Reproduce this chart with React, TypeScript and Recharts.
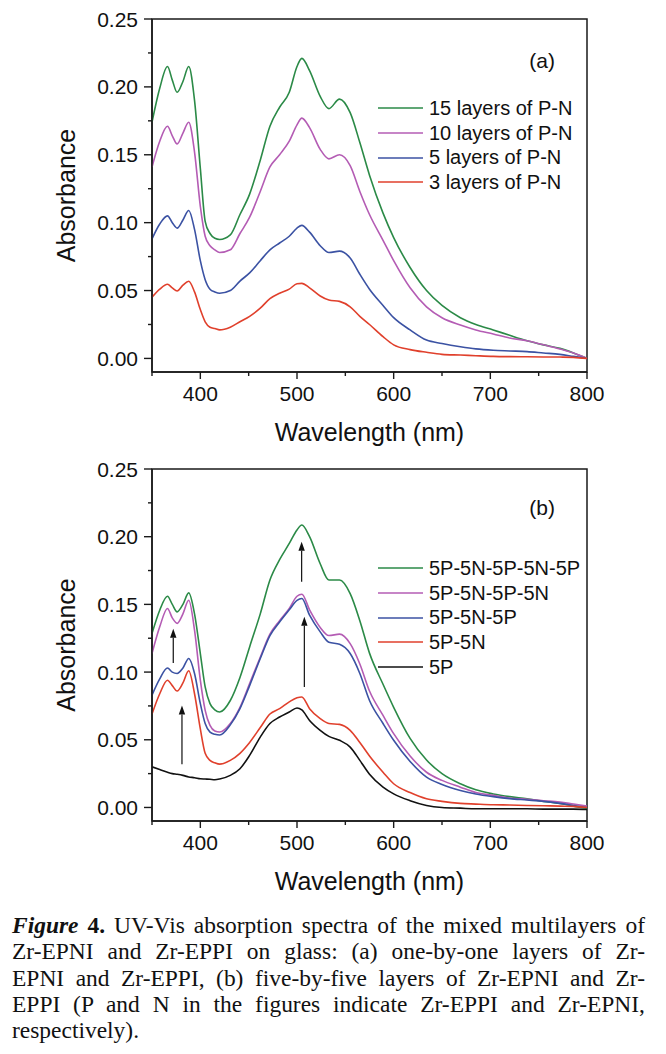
import React from 'react';
import { LineChart, Line, XAxis, YAxis, ReferenceArea, ReferenceLine, Legend } from 'recharts';

// ---------- data ----------
const wavelengths = [350, 358, 366, 371, 376, 382, 388, 394, 400, 405, 410, 415, 420, 431, 441, 451, 462, 472, 482, 492, 500, 505, 513, 524, 533, 544, 555, 565, 575, 589, 600, 617, 634, 650, 669, 685, 703, 720, 738, 755, 772, 786, 800];

// (a) one-by-one layers
const layers15 = [0.174, 0.199, 0.215, 0.205, 0.196, 0.204, 0.215, 0.190, 0.140, 0.101, 0.092, 0.0885, 0.0876, 0.091, 0.106, 0.121, 0.146, 0.171, 0.185, 0.196, 0.215, 0.221, 0.212, 0.193, 0.184, 0.191, 0.181, 0.159, 0.135, 0.107, 0.089, 0.067, 0.050, 0.039, 0.030, 0.025, 0.021, 0.017, 0.013, 0.010, 0.0074, 0.004, 0.0];
const layers10 = [0.141, 0.160, 0.171, 0.164, 0.158, 0.166, 0.174, 0.152, 0.112, 0.090, 0.083, 0.080, 0.078, 0.080, 0.092, 0.104, 0.123, 0.141, 0.150, 0.160, 0.172, 0.177, 0.170, 0.154, 0.147, 0.150, 0.142, 0.123, 0.106, 0.087, 0.072, 0.052, 0.038, 0.030, 0.0246, 0.021, 0.018, 0.015, 0.013, 0.010, 0.007, 0.004, 0.0];
const layers5 = [0.088, 0.099, 0.105, 0.100, 0.096, 0.102, 0.109, 0.095, 0.072, 0.058, 0.051, 0.049, 0.048, 0.050, 0.057, 0.063, 0.072, 0.080, 0.085, 0.090, 0.096, 0.098, 0.093, 0.083, 0.078, 0.079, 0.074, 0.062, 0.051, 0.039, 0.030, 0.021, 0.0135, 0.011, 0.0086, 0.007, 0.006, 0.0055, 0.005, 0.004, 0.003, 0.0015, 0.0];
const layers3 = [0.045, 0.051, 0.0546, 0.052, 0.0497, 0.054, 0.0568, 0.049, 0.036, 0.027, 0.023, 0.022, 0.021, 0.023, 0.027, 0.031, 0.037, 0.044, 0.048, 0.051, 0.055, 0.0553, 0.052, 0.046, 0.043, 0.042, 0.038, 0.031, 0.025, 0.016, 0.010, 0.0065, 0.0045, 0.003, 0.0025, 0.002, 0.0015, 0.0013, 0.0012, 0.0011, 0.001, 0.0008, 0.0];

// (b) five-by-five layers
const s5P5N5P5N5P = [0.1285, 0.1457, 0.156, 0.150, 0.1445, 0.150, 0.1585, 0.143, 0.1137, 0.089, 0.0767, 0.072, 0.0705, 0.079, 0.096, 0.1186, 0.143, 0.168, 0.183, 0.195, 0.205, 0.2086, 0.200, 0.180, 0.168, 0.168, 0.158, 0.138, 0.114, 0.091, 0.074, 0.051, 0.035, 0.025, 0.0175, 0.013, 0.010, 0.008, 0.0064, 0.0045, 0.003, 0.001, -0.0005];
const s5P5N5P5N = [0.1137, 0.1334, 0.147, 0.140, 0.136, 0.143, 0.153, 0.131, 0.094, 0.0717, 0.0606, 0.0565, 0.0557, 0.062, 0.074, 0.0915, 0.111, 0.128, 0.138, 0.147, 0.156, 0.1575, 0.146, 0.133, 0.127, 0.128, 0.121, 0.106, 0.086, 0.068, 0.0545, 0.038, 0.026, 0.020, 0.015, 0.011, 0.0089, 0.007, 0.006, 0.005, 0.004, 0.0025, 0.001];
const s5P5N5P = [0.083, 0.095, 0.103, 0.100, 0.099, 0.103, 0.110, 0.099, 0.0767, 0.062, 0.0557, 0.054, 0.0535, 0.061, 0.073, 0.090, 0.110, 0.127, 0.137, 0.146, 0.153, 0.1544, 0.142, 0.1297, 0.122, 0.1205, 0.1137, 0.099, 0.079, 0.062, 0.0496, 0.034, 0.0224, 0.017, 0.0126, 0.010, 0.008, 0.0065, 0.0055, 0.0045, 0.003, 0.0015, 0.0];
const s5P5N = [0.069, 0.084, 0.094, 0.090, 0.086, 0.092, 0.101, 0.084, 0.058, 0.040, 0.0348, 0.033, 0.032, 0.0348, 0.040, 0.048, 0.059, 0.069, 0.073, 0.078, 0.081, 0.0816, 0.073, 0.0656, 0.062, 0.0614, 0.057, 0.048, 0.038, 0.026, 0.0175, 0.011, 0.0064, 0.0045, 0.003, 0.0025, 0.002, 0.0018, 0.0015, 0.0013, 0.001, 0.0008, 0.0];
const s5P = [0.030, 0.028, 0.026, 0.025, 0.0245, 0.0237, 0.0225, 0.022, 0.0212, 0.021, 0.0208, 0.0205, 0.021, 0.0237, 0.0286, 0.0385, 0.052, 0.062, 0.0668, 0.0705, 0.0735, 0.072, 0.0643, 0.057, 0.0525, 0.0496, 0.0446, 0.0348, 0.0245, 0.015, 0.010, 0.005, 0.0015, 0.0, -0.0005, -0.001, -0.001, -0.001, -0.001, -0.0012, -0.0012, -0.0012, -0.0015];

// arrows in panel (b): wavelength, start absorbance, tip absorbance
const arrowX = [381, 372, 507.6, 504.8];
const arrowFrom = [0.032, 0.1067, 0.089, 0.1667];
const arrowTo = [0.0754, 0.132, 0.1408, 0.1962];

// ticks
const xTicks = [350, 400, 450, 500, 550, 600, 650, 700, 750, 800];
const xMajor = [400, 500, 600, 700, 800];
const yTicks = [0, 0.025, 0.05, 0.075, 0.1, 0.125, 0.15, 0.175, 0.2, 0.225, 0.25];
const yDomain: [number, number] = [-0.01, 0.25];

const namesA = ['15 layers of P-N', '10 layers of P-N', '5 layers of P-N', '3 layers of P-N'];
const namesB = ['5P-5N-5P-5N-5P', '5P-5N-5P-5N', '5P-5N-5P', '5P-5N', '5P'];
const colorsA = ['#2b8a47', '#b45cb4', '#3b52a3', '#e0402c'];
const colorsB = ['#2b8a47', '#b45cb4', '#3b52a3', '#e0402c', '#111111'];

const seriesA = [layers15, layers10, layers5, layers3];
const seriesB = [s5P5N5P5N5P, s5P5N5P5N, s5P5N5P, s5P5N, s5P];

const dataA = wavelengths.map((w, i) => {
  const row: any = { w };
  seriesA.forEach((s, k) => (row['a' + k] = s[i]));
  return row;
});
const dataB = wavelengths.map((w, i) => {
  const row: any = { w };
  seriesB.forEach((s, k) => (row['b' + k] = s[i]));
  return row;
});

// ---------- styling ----------
const SANS = '"Liberation Sans", Arial, Helvetica, sans-serif';
const AXIS = '#1a1a1a';

const XTick = (p: any) => {
  const { x, y, payload } = p;
  const major = xMajor.includes(payload.value);
  return (
    <g>
      <line x1={x} x2={x} y1={y} y2={y + (major ? 7 : 4)} stroke={AXIS} strokeWidth={1.4} />
      {major && (
        <text x={x} y={y + 21} dy="0.36em" textAnchor="middle" fontSize={21} fontFamily={SANS} fill="#111">
          {payload.value}
        </text>
      )}
    </g>
  );
};

const YTick = (p: any) => {
  const { x, y, payload } = p;
  const major = Math.round(payload.value * 1000) % 50 === 0;
  return (
    <g>
      <line x1={x} x2={x - (major ? 8 : 4)} y1={y} y2={y} stroke={AXIS} strokeWidth={1.4} />
      {major && (
        <text x={x - 14} y={y} dy="0.36em" textAnchor="end" fontSize={21} fontFamily={SANS} fill="#111">
          {payload.value.toFixed(2)}
        </text>
      )}
    </g>
  );
};

const xLabel = (props: any) => {
  const vb = props.viewBox || {};
  return (
    <text x={vb.x + vb.width / 2} y={vb.y + 60} dy="0.36em" textAnchor="middle" fontSize={25} fontFamily={SANS} fill="#111">
      Wavelength (nm)
    </text>
  );
};

const yLabel = (props: any) => {
  const vb = props.viewBox || {};
  const cx = 66;
  const cy = vb.y + vb.height / 2;
  return (
    <text x={cx} y={cy} dy="0.36em" textAnchor="middle" fontSize={25} fontFamily={SANS} fill="#111" transform={`rotate(-90 ${cx} ${cy})`}>
      Absorbance
    </text>
  );
};

const panelLabel = (txt: string, dyTop: number) => (props: any) => {
  const vb = props.viewBox || {};
  return (
    <text x={vb.x + vb.width - 32} y={vb.y + dyTop} dy="0.36em" textAnchor="end" fontSize={21} fontFamily={SANS} fill="#111">
      {txt}
    </text>
  );
};

const ArrowShape = (p: any) => {
  const { x1, y1, x2, y2 } = p;
  if ([x1, y1, x2, y2].some((v) => typeof v !== 'number' || isNaN(v))) return <g />;
  const dir = y2 < y1 ? -1 : 1;
  const head = 9;
  return (
    <g>
      <line x1={x1} y1={y1} x2={x2} y2={y2 - dir * head} stroke="#111" strokeWidth={1.2} />
      <polygon points={`${x2},${y2} ${x2 - 3.2},${y2 - dir * head} ${x2 + 3.2},${y2 - dir * head}`} fill="#111" />
    </g>
  );
};

const makeLegend = (names: string[], colors: string[]) => () => (
  <div style={{ fontFamily: SANS, fontSize: 20, color: '#111' }}>
    {names.map((n, i) => (
      <div key={n} style={{ display: 'flex', alignItems: 'center', height: 24.7, whiteSpace: 'nowrap' }}>
        <svg width={45} height={4} style={{ display: 'block' }}>
          <line x1={0} x2={45} y1={2} y2={2} stroke={colors[i]} strokeWidth={1.6} />
        </svg>
        <span style={{ marginLeft: 6, lineHeight: '24.7px' }}>{n}</span>
      </div>
    ))}
  </div>
);

type PanelProps = {
  data: any[];
  keys: string[];
  names: string[];
  colors: string[];
  height: number;
  plotHeight: number;
  tag: string;
  tagY: number;
  legendTop: number;
  arrows?: boolean;
};

const Panel = ({ data, keys, names, colors, height, plotHeight, tag, tagY, legendTop, arrows }: PanelProps) => {
  const top = 19;
  const xAxisH = height - top - plotHeight;
  return (
    <LineChart width={666} height={height} data={data} margin={{ top, right: 79, bottom: 0, left: 0 }}>
      <XAxis
        dataKey="w"
        type="number"
        domain={[350, 800]}
        ticks={xTicks}
        interval={0}
        allowDataOverflow
        height={xAxisH}
        tickSize={0}
        tickMargin={0}
        tickLine={false}
        tick={XTick}
        axisLine={{ stroke: AXIS, strokeWidth: 1.5 }}
        label={xLabel}
      />
      <YAxis
        type="number"
        domain={yDomain}
        ticks={yTicks}
        interval={0}
        allowDataOverflow
        width={152}
        tickSize={0}
        tickMargin={0}
        tickLine={false}
        tick={YTick}
        axisLine={{ stroke: AXIS, strokeWidth: 1.5 }}
        label={yLabel}
      />
      <ReferenceArea
        x1={350}
        x2={800}
        y1={yDomain[0]}
        y2={yDomain[1]}
        fill="none"
        fillOpacity={0}
        stroke={AXIS}
        strokeWidth={1.5}
        ifOverflow="visible"
        label={panelLabel(tag, tagY)}
      />
      {keys.map((k, i) => (
        <Line
          key={k}
          dataKey={k}
          name={names[i]}
          type="monotone"
          stroke={colors[i]}
          strokeWidth={1.6}
          dot={false}
          activeDot={false}
          isAnimationActive={false}
        />
      ))}
      {arrows &&
        arrowX.map((x, i) => (
          <ReferenceLine
            key={'ar' + i}
            segment={[
              { x, y: arrowFrom[i] },
              { x, y: arrowTo[i] },
            ]}
            ifOverflow="visible"
            shape={ArrowShape}
          />
        ))}
      <Legend
        layout="vertical"
        align="center"
        verticalAlign="middle"
        wrapperStyle={{ left: 378, top: legendTop, width: 260, height: 'auto' }}
        content={makeLegend(names, colors)}
      />
    </LineChart>
  );
};

const captionLines = [
  'UV-Vis absorption spectra of the mixed multilayers of',
  'Zr-EPNI and Zr-EPPI on glass: (a) one-by-one layers of Zr-',
  'EPNI and Zr-EPPI, (b) five-by-five layers of Zr-EPNI and Zr-',
  'EPPI (P and N in the figures indicate Zr-EPPI and Zr-EPNI,',
  'respectively).',
];

const CAP_SCALE = 1.02;

export default function App() {
  const lineStyle: React.CSSProperties = {
    textAlign: 'justify',
    textAlignLast: 'justify',
    whiteSpace: 'nowrap',
    height: 26.3,
    lineHeight: '26.3px',
  };
  return (
    <div style={{ position: 'absolute', left: 0, top: 0, width: 666, height: 1054, background: '#fff', overflow: 'hidden' }}>
      <div style={{ position: 'absolute', left: 0, top: 0 }}>
        <Panel
          data={dataA}
          keys={['a0', 'a1', 'a2', 'a3']}
          names={namesA}
          colors={colorsA}
          height={455}
          plotHeight={353}
          tag="(a)"
          tagY={41}
          legendTop={96}
        />
      </div>
      <div style={{ position: 'absolute', left: 0, top: 450 }}>
        <Panel
          data={dataB}
          keys={['b0', 'b1', 'b2', 'b3', 'b4']}
          names={namesB}
          colors={colorsB}
          height={460}
          plotHeight={352}
          tag="(b)"
          tagY={38}
          legendTop={106}
          arrows
        />
      </div>
      <div
        style={{
          position: 'absolute',
          left: 12,
          top: 913,
          width: 633 / CAP_SCALE,
          transform: `scaleX(${CAP_SCALE})`,
          transformOrigin: '0 0',
          fontFamily: '"Liberation Serif", "Times New Roman", serif',
          fontSize: 23,
          color: '#111',
        }}
      >
        <div style={lineStyle}>
          <b>
            <i>Figure</i> 4.
          </b>{' '}
          {captionLines[0]}
        </div>
        <div style={lineStyle}>{captionLines[1]}</div>
        <div style={lineStyle}>{captionLines[2]}</div>
        <div style={lineStyle}>{captionLines[3]}</div>
        <div style={{ ...lineStyle, textAlignLast: 'left' }}>{captionLines[4]}</div>
      </div>
    </div>
  );
}
